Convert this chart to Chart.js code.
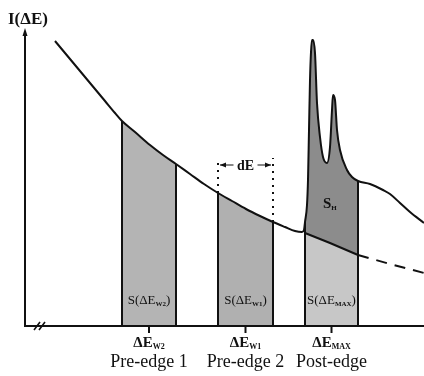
<!DOCTYPE html>
<html>
<head>
<meta charset="utf-8">
<script src="https://cdn.jsdelivr.net/npm/chart.js@4.4.1/dist/chart.umd.min.js"></script>
<style>
  html, body { margin: 0; padding: 0; background: #fff; }
  #wrap { width: 424px; height: 376px; }
</style>
</head>
<body>
<div id="wrap"><canvas id="c" width="424" height="376"></canvas></div>
<script>
// Energy-loss spectrum (arbitrary units): decaying pre-edge background,
// two sharp white-line peaks at the edge, then the post-edge tail.
const energy = [30, 40, 50, 60, 70, 80, 90, 97, 110, 125, 138, 151, 165, 179, 193, 207, 221, 235, 248,
  260, 270, 277, 279, 280, 282, 283, 284, 285, 286, 287, 288, 290, 292, 295, 298, 302, 305, 307, 308,
  310, 312, 315, 322, 327, 333, 345, 358, 365, 375, 385, 399];
const intensity = [285, 273, 261, 249, 237, 225, 213, 205, 194, 181, 171, 162, 152, 142, 133, 125, 117, 110, 104,
  99, 95, 94, 96, 104, 121, 146, 196, 246, 274, 286, 286, 273, 223, 189, 169, 163, 179, 216, 231,
  226, 196, 176, 156, 149, 145, 142, 136, 132, 123, 114, 103];

// Extrapolated background under the edge
const bgEnergy = [280, 305, 333, 365, 399];
const bgIntensity = [93, 83, 71, 62, 53];

// Energy windows: two pre-edge, one post-edge
const windowStart = [97, 193, 280];
const windowEnd = [151, 248, 333];
const windowSub = ['W2', 'W1', 'MAX'];
const windowName = ['Pre-edge 1', 'Pre-edge 2', 'Post-edge'];
const dEMarkerTop = 168;
const dEArrowLevel = 161;

const toPoints = (xs, ys) => xs.map((x, i) => ({ x: x, y: ys[i] }));
const spectrum = toPoints(energy, intensity);
const yAt = x => intensity[energy.indexOf(x)];
const inWindow = k => spectrum.filter(p => p.x >= windowStart[k] && p.x <= windowEnd[k]);
const background = toPoints(bgEnergy, bgIntensity);
const bgSolid = background.filter(p => p.x <= windowEnd[2]);
const bgDashed = background.filter(p => p.x >= windowEnd[2]);

const edges = [];
windowStart.forEach((s, k) => {
  [s, windowEnd[k]].forEach(x => {
    edges.push({ x: x, y: 0 }, { x: x, y: yAt(x) }, { x: x, y: null });
  });
});
const dEGuides = [];
[windowStart[1], windowEnd[1]].forEach(x => {
  dEGuides.push({ x: x, y: yAt(x) }, { x: x, y: dEMarkerTop }, { x: x, y: null });
});

const SERIF = '"Liberation Serif", "DejaVu Serif", serif';
const INK = '#111';

// Draws a run of text pieces (main text + subscripts) starting at x
function drawRuns(ctx, runs, x, y, align) {
  let total = 0;
  runs.forEach(r => { ctx.font = r.font; total += ctx.measureText(r.t).width; });
  let cx = align === 'center' ? x - total / 2 : x;
  ctx.textAlign = 'left';
  ctx.textBaseline = 'alphabetic';
  runs.forEach(r => {
    ctx.font = r.font;
    ctx.fillText(r.t, cx, y + (r.dy || 0));
    cx += ctx.measureText(r.t).width;
  });
}

const decorations = {
  id: 'decorations',
  afterDatasetsDraw(chart) {
    const { ctx, chartArea: a, scales: { x: sx, y: sy } } = chart;
    ctx.save();
    ctx.strokeStyle = INK;
    ctx.fillStyle = INK;
    ctx.lineWidth = 2;
    ctx.lineCap = 'butt';

    // axes
    ctx.beginPath();
    ctx.moveTo(a.left, a.bottom);
    ctx.lineTo(a.left, a.top + 4);
    ctx.moveTo(a.left - 1, a.bottom);
    ctx.lineTo(a.right, a.bottom);
    ctx.stroke();
    ctx.beginPath();
    ctx.moveTo(a.left, a.top - 1);
    ctx.lineTo(a.left - 2.5, a.top + 7);
    ctx.lineTo(a.left + 2.5, a.top + 7);
    ctx.closePath();
    ctx.fill();

    // axis break
    ctx.lineWidth = 1.6;
    ctx.beginPath();
    [a.left + 12, a.left + 17].forEach(bx => {
      ctx.moveTo(bx - 3, a.bottom + 4);
      ctx.lineTo(bx + 3, a.bottom - 4);
    });
    ctx.stroke();

    // window centre ticks and labels
    ctx.lineWidth = 2;
    windowStart.forEach((s, k) => {
      const cx = sx.getPixelForValue((s + windowEnd[k]) / 2);
      ctx.beginPath();
      ctx.moveTo(cx, a.bottom);
      ctx.lineTo(cx, a.bottom + 7);
      ctx.stroke();
      drawRuns(ctx, [
        { t: '\u0394E', font: 'bold 15px ' + SERIF },
        { t: windowSub[k], font: 'bold 8px ' + SERIF, dy: 2 }
      ], cx, a.bottom + 21, 'center');
      ctx.font = '18px ' + SERIF;
      ctx.textAlign = 'center';
      ctx.fillText(windowName[k], cx, a.bottom + 41);

      drawRuns(ctx, [
        { t: 'S(\u0394E', font: '13px ' + SERIF },
        { t: windowSub[k], font: 'bold 7px ' + SERIF, dy: 2 },
        { t: ')', font: '13px ' + SERIF }
      ], cx, a.bottom - 22, 'center');
    });

    // dE width marker
    const xl = sx.getPixelForValue(windowStart[1]);
    const xr = sx.getPixelForValue(windowEnd[1]);
    const ya = sy.getPixelForValue(dEArrowLevel);
    const xm = (xl + xr) / 2;
    ctx.lineWidth = 1.2;
    ctx.beginPath();
    ctx.moveTo(xl + 2, ya); ctx.lineTo(xm - 12, ya);
    ctx.moveTo(xm + 12, ya); ctx.lineTo(xr - 2, ya);
    ctx.stroke();
    [[xl + 2, 1], [xr - 2, -1]].forEach(([tx, d]) => {
      ctx.beginPath();
      ctx.moveTo(tx, ya);
      ctx.lineTo(tx + 6 * d, ya - 2.5);
      ctx.lineTo(tx + 6 * d, ya + 2.5);
      ctx.closePath();
      ctx.fill();
    });
    ctx.font = 'bold 14px ' + SERIF;
    ctx.textAlign = 'center';
    ctx.textBaseline = 'middle';
    ctx.fillText('dE', xm, ya + 1);

    // near-edge signal label
    drawRuns(ctx, [
      { t: 'S', font: 'bold 15px ' + SERIF },
      { t: 'H', font: 'bold 7px ' + SERIF, dy: 2 }
    ], sx.getPixelForValue(298), sy.getPixelForValue(118), 'left');

    // intensity axis title
    drawRuns(ctx, [{ t: 'I(\u0394E)', font: 'bold 17px ' + SERIF }], 8, 24, 'left');
    ctx.restore();
  }
};

const line = (data, extra) => Object.assign({
  data: data,
  borderColor: INK,
  borderWidth: 2,
  pointRadius: 0,
  fill: false,
  tension: 0,
  spanGaps: false
}, extra);

new Chart(document.getElementById('c'), {
  type: 'line',
  data: {
    datasets: [
      line(spectrum, { cubicInterpolationMode: 'monotone' }),                       // 0 spectrum
      line(bgSolid, { fill: 'origin', backgroundColor: '#c7c7c7' }),               // 1 background in window
      line(bgDashed, { borderDash: [11, 8] }),                                      // 2 extrapolation
      line(edges, {}),                                                              // 3 window edges
      line(dEGuides, { borderDash: [2, 5], borderWidth: 2 }),                       // 4 dE guides
      line(inWindow(0), { cubicInterpolationMode: 'monotone', borderWidth: 0, fill: 'origin', backgroundColor: '#b4b4b4' }),
      line(inWindow(1), { cubicInterpolationMode: 'monotone', borderWidth: 0, fill: 'origin', backgroundColor: '#b0b0b0' }),
      line(inWindow(2), { cubicInterpolationMode: 'monotone', borderWidth: 0, fill: 1, backgroundColor: '#8c8c8c' })
    ]
  },
  options: {
    responsive: false,
    animation: false,
    devicePixelRatio: 1,
    layout: { padding: { left: 25, right: 0, top: 29, bottom: 50 } },
    scales: {
      x: { type: 'linear', min: 0, max: 399, display: false },
      y: { type: 'linear', min: 0, max: 297, display: false }
    },
    plugins: {
      legend: { display: false },
      tooltip: { enabled: false },
      filler: { drawTime: 'beforeDatasetsDraw' }
    }
  },
  plugins: [decorations]
});
</script>
</body>
</html>
